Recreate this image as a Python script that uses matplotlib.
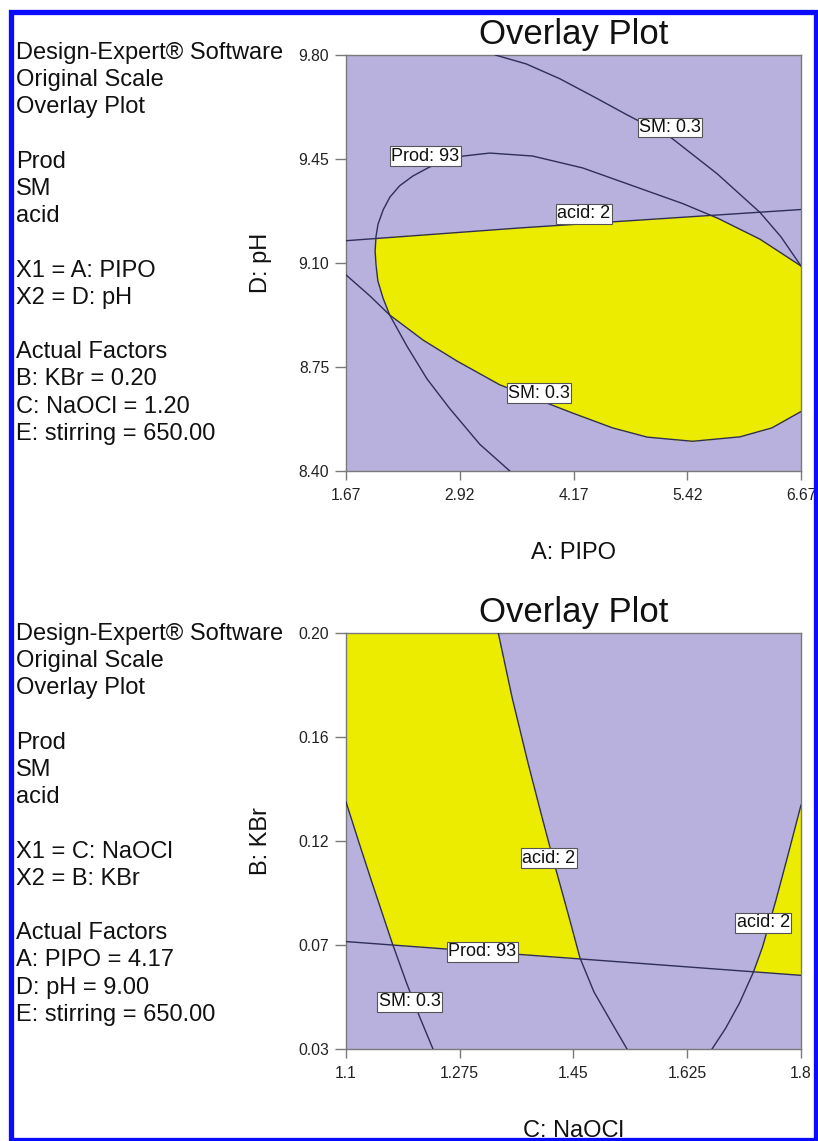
import numpy as np
import matplotlib
matplotlib.use('Agg')
import matplotlib.pyplot as plt
from matplotlib.path import Path
from matplotlib.patches import Rectangle

plt.rcParams['font.family'] = ['Liberation Sans', 'DejaVu Sans']

W, H, DPI = 818, 1141, 100

# ---------------- top panel data (A: PIPO vs D: pH) ----------------
top_xticks = [1.67, 2.92, 4.17, 5.42, 6.67]
top_xticklabels = ['1.67', '2.92', '4.17', '5.42', '6.67']
top_yticks = [8.40, 8.75, 9.10, 9.45, 9.80]
top_yticklabels = ['8.40', '8.75', '9.10', '9.45', '9.80']

top_prod_x = [3.47, 3.14, 2.81, 2.56, 2.34, 2.15, 2.077, 2.02, 2.00, 1.99, 2.00, 2.022,
              2.08, 2.153, 2.26, 2.406, 2.57, 2.758, 2.96, 3.25, 3.72, 4.27, 4.82,
              5.37, 5.76, 6.22, 6.67]
top_prod_y = [8.40, 8.49, 8.61, 8.71, 8.82, 8.925, 8.982, 9.04, 9.093, 9.14, 9.19, 9.231,
              9.28, 9.322, 9.36, 9.393, 9.42, 9.447, 9.46, 9.47, 9.46, 9.42, 9.36,
              9.30, 9.25, 9.18, 9.09]
top_sm_upper_x = [3.31, 3.65, 4.02, 4.39, 4.75, 5.25, 5.75, 6.22, 6.45, 6.67]
top_sm_upper_y = [9.80, 9.77, 9.72, 9.66, 9.60, 9.52, 9.40, 9.27, 9.188, 9.09]
top_sm_lower_x = [1.67, 1.93, 2.15, 2.52, 2.89, 3.36, 4.16, 4.60, 4.98, 5.48, 6.00, 6.35, 6.67]
top_sm_lower_y = [9.06, 8.99, 8.925, 8.84, 8.77, 8.69, 8.595, 8.545, 8.514, 8.50, 8.515, 8.545, 8.60]
top_acid_x = [1.67, 3.58, 6.67]
top_acid_y = [9.175, 9.218, 9.28]

top_label_text = ['Prod: 93', 'SM: 0.3', 'acid: 2', 'SM: 0.3']
top_label_x = [2.54, 5.23, 4.28, 3.79]
top_label_y = [9.46, 9.556, 9.265, 8.662]

top_info = ['Design-Expert\u00ae Software', 'Original Scale', 'Overlay Plot', '',
            'Prod', 'SM', 'acid', '',
            'X1 = A: PIPO', 'X2 = D: pH', '',
            'Actual Factors', 'B: KBr = 0.20', 'C: NaOCl = 1.20', 'E: stirring = 650.00']

# ---------------- bottom panel data (C: NaOCl vs B: KBr) ----------------
bot_xticks = [1.1, 1.275, 1.45, 1.625, 1.8]
bot_xticklabels = ['1.1', '1.275', '1.45', '1.625', '1.8']
bot_yticks = [0.03, 0.0725, 0.115, 0.1575, 0.20]
bot_yticklabels = ['0.03', '0.07', '0.12', '0.16', '0.20']

bot_acid_left_x = [1.3343, 1.3554, 1.380, 1.4015, 1.4231, 1.4431, 1.460, 1.4815, 1.5062, 1.5323]
bot_acid_left_y = [0.200, 0.1738, 0.1469, 0.1248, 0.1032, 0.0839, 0.0672, 0.0533, 0.0419, 0.030]
bot_sm_x = [1.100, 1.120, 1.140, 1.1708, 1.193, 1.213, 1.2338]
bot_sm_y = [0.131, 0.1143, 0.098, 0.0735, 0.0571, 0.0433, 0.030]
bot_prod_x = [1.1, 1.552, 1.8]
bot_prod_y = [0.0739, 0.065, 0.0601]
bot_acid_right_x = [1.800, 1.7792, 1.7615, 1.7408, 1.7269, 1.7054, 1.6839, 1.6631]
bot_acid_right_y = [0.1297, 0.1085, 0.0909, 0.0717, 0.0615, 0.0488, 0.0384, 0.030]

bot_label_text = ['acid: 2', 'Prod: 93', 'SM: 0.3', 'acid: 2']
bot_label_x = [1.412, 1.31, 1.198, 1.742]
bot_label_y = [0.108, 0.0698, 0.0493, 0.0815]

bot_info = ['Design-Expert\u00ae Software', 'Original Scale', 'Overlay Plot', '',
            'Prod', 'SM', 'acid', '',
            'X1 = C: NaOCl', 'X2 = B: KBr', '',
            'Actual Factors', 'A: PIPO = 4.17', 'D: pH = 9.00', 'E: stirring = 650.00']

# ---------------- style ----------------
LAV = '#b8b1dd'
YEL = '#ecec00'
LINE = '#2e2e58'
GRAY = '#7a7a7a'

fig = plt.figure(figsize=(W / DPI, H / DPI), dpi=DPI)
fig.patch.set_facecolor('white')


def px_axes(left, top, right, bottom):
    return [left / W, 1 - bottom / H, (right - left) / W, (bottom - top) / H]


def region(xs, ys, cx, cy, X, Y):
    verts = list(zip(xs, ys)) + list(zip(cx, cy))
    p = Path(verts)
    pts = np.column_stack([X.ravel(), Y.ravel()])
    return p.contains_points(pts).reshape(X.shape)


def setup(ax, xlim, ylim, xt, xtl, yt, ytl, xlabel, ylabel):
    ax.set_facecolor(LAV)
    ax.set_xlim(*xlim)
    ax.set_ylim(*ylim)
    ax.set_xticks(xt)
    ax.set_xticklabels(xtl)
    ax.set_yticks(yt)
    ax.set_yticklabels(ytl)
    for s in ax.spines.values():
        s.set_color(GRAY)
        s.set_linewidth(1.0)
    ax.tick_params(axis='y', length=8, width=1, color=GRAY, pad=4,
                   labelsize=11.3, labelcolor='#222222')
    ax.tick_params(axis='x', length=6.5, width=1, color=GRAY, pad=6,
                   labelsize=11.3, labelcolor='#222222')
    ax.set_title('Overlay Plot', fontsize=25, pad=8, color='#111111')
    ax.set_xlabel(xlabel, fontsize=17, color='#111111')
    ax.xaxis.set_label_coords(0.5, -0.197)
    ax.xaxis.label.set_va('center')
    ax.set_ylabel(ylabel, fontsize=17, color='#111111')
    ax.yaxis.set_label_coords(-0.187, 0.5)
    ax.yaxis.label.set_va('center')


def labels(ax, txt, xs, ys):
    for t, x, y in zip(txt, xs, ys):
        ax.text(x, y, t, ha='center', va='center', fontsize=13, color='#111111',
                zorder=6,
                bbox=dict(boxstyle='square,pad=0.08', fc='white', ec='#555555', lw=0.8))


# ---------------- top panel ----------------
ax1 = fig.add_axes(px_axes(346, 55, 801, 471))
x0, x1, y0, y1 = 1.67, 6.67, 8.40, 9.80
setup(ax1, (x0, x1), (y0, y1), top_xticks, top_xticklabels, top_yticks, top_yticklabels,
      'A: PIPO', 'D: pH')
X, Y = np.meshgrid(np.linspace(x0, x1, 800), np.linspace(y0, y1, 800))
m_prod = region(top_prod_x, top_prod_y, [x1], [y0], X, Y)
m_acid = region(top_acid_x, top_acid_y, [x1, x0], [y0, y0], X, Y)
m_smlo = region(top_sm_lower_x, top_sm_lower_y, [x1, x0], [y1, y1], X, Y)
m_smup = region(top_sm_upper_x, top_sm_upper_y, [x1, x0, x0], [y0, y0, y1], X, Y)
mask = (m_prod & m_acid & m_smlo & m_smup).astype(float)
ax1.contourf(X, Y, mask, levels=[0.5, 1.5], colors=[YEL], zorder=1)
for xs, ys in [(top_prod_x, top_prod_y), (top_sm_upper_x, top_sm_upper_y),
               (top_sm_lower_x, top_sm_lower_y), (top_acid_x, top_acid_y)]:
    ax1.plot(xs, ys, color=LINE, lw=1.0, zorder=3, solid_joinstyle='round')
labels(ax1, top_label_text, top_label_x, top_label_y)

# ---------------- bottom panel ----------------
ax2 = fig.add_axes(px_axes(346, 633, 801, 1049))
x0, x1, y0, y1 = 1.1, 1.8, 0.03, 0.20
setup(ax2, (x0, x1), (y0, y1), bot_xticks, bot_xticklabels, bot_yticks, bot_yticklabels,
      'C: NaOCl', 'B: KBr')
X, Y = np.meshgrid(np.linspace(x0, x1, 800), np.linspace(y0, y1, 800))
m_prod = region(bot_prod_x, bot_prod_y, [x1, x0], [y1, y1], X, Y)
m_sm = region(bot_sm_x, bot_sm_y, [x1, x1, x0], [y0, y1, y1], X, Y)
m_al = region(bot_acid_left_x, bot_acid_left_y, [x0, x0], [y0, y1], X, Y)
m_ar = region(bot_acid_right_x, bot_acid_right_y, [x1], [y0], X, Y)
mask = (m_prod & ((m_sm & m_al) | m_ar)).astype(float)
ax2.contourf(X, Y, mask, levels=[0.5, 1.5], colors=[YEL], zorder=1)
for xs, ys in [(bot_acid_left_x, bot_acid_left_y), (bot_sm_x, bot_sm_y),
               (bot_prod_x, bot_prod_y), (bot_acid_right_x, bot_acid_right_y)]:
    ax2.plot(xs, ys, color=LINE, lw=1.0, zorder=3, solid_joinstyle='round')
labels(ax2, bot_label_text, bot_label_x, bot_label_y)

# ---------------- left info text ----------------
for block, top in [(top_info, 53), (bot_info, 634)]:
    for i, line in enumerate(block):
        if line:
            fig.text(16 / W, 1 - (top + i * 27.2) / H, line, ha='left', va='center',
                     fontsize=17, color='#111111')

# ---------------- blue frame ----------------
fig.add_artist(Rectangle((10.5 / W, 1 - 1139.5 / H), (815.5 - 10.5) / W, (1139.5 - 12) / H,
                         transform=fig.transFigure, fill=False, ec='#0a0aff', lw=3.8,
                         zorder=20))

fig.savefig('out.png', dpi=DPI, facecolor='white')
